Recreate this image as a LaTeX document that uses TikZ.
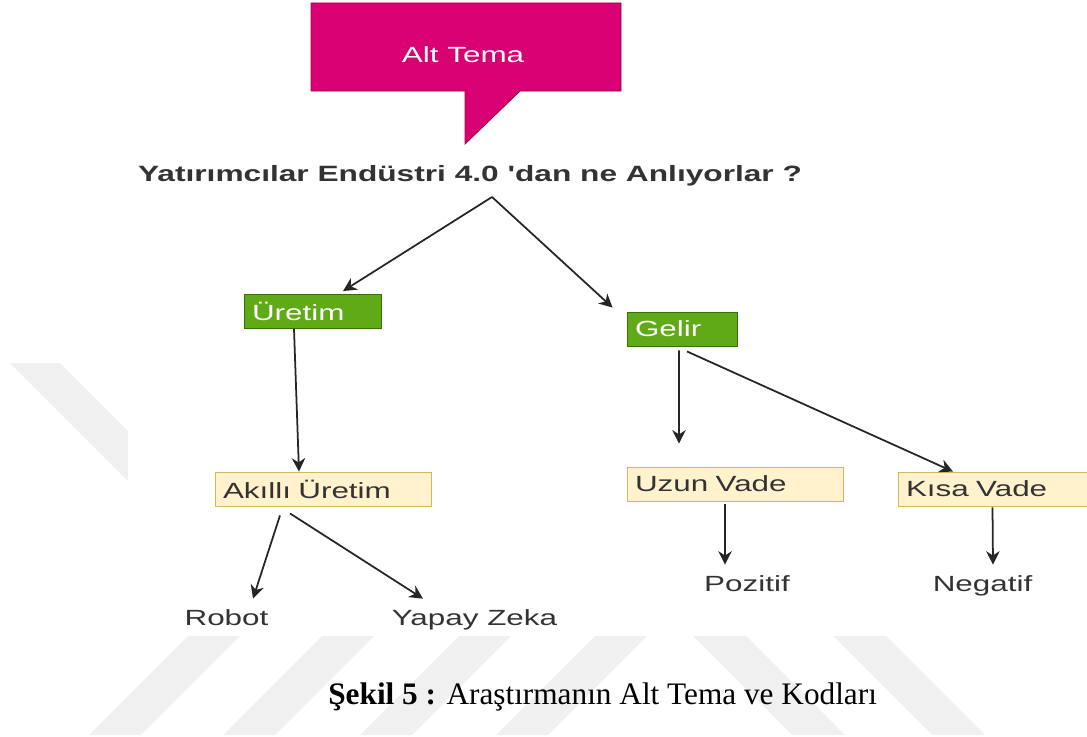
\documentclass[tikz,border=0pt]{standalone}
\usepackage{fontspec}
\setmainfont{Liberation Serif}
\newfontfamily\diafont[FakeStretch=1.43]{Liberation Sans}
\usetikzlibrary{positioning,calc,arrows.meta}

\definecolor{temapink}{HTML}{D80073}
\definecolor{temaline}{HTML}{A50040}
\definecolor{kodgreen}{HTML}{60A917}
\definecolor{kodgreenline}{HTML}{2D7600}
\definecolor{kodyellow}{HTML}{FFF2CC}
\definecolor{kodyellowline}{HTML}{D6B656}
\definecolor{yazi}{HTML}{333333}
\definecolor{filigran}{HTML}{F0F0F0}

\begin{document}
\begin{tikzpicture}[>={Stealth[length=0.27cm, width=0.27cm]}]
	\useasboundingbox (0,0) rectangle (21.74,-14.72);
	\tikzstyle{every node}=[font=\diafont\fontsize{12.5}{15}\selectfont, text=yazi]
	\tikzstyle{ok}=[line width=1pt, draw=black!85]
	\tikzstyle{kutu}=[draw, line width=0.5pt, minimum height=0.68cm, inner xsep=0.16cm, inner ysep=0pt, align=left]
	\tikzstyle{tema}=[kutu, draw=kodgreenline, fill=kodgreen, text=white]
	\tikzstyle{kod}=[kutu, draw=kodyellowline, fill=kodyellow]
	\tikzstyle{yaprak}=[inner xsep=0pt, inner ysep=0.2cm, text height=0.32cm, text depth=0cm, anchor=base]

	\foreach \a in {3.76, 6.44, 9.18, 11.9}
		\fill[filigran] (\a,-12.72) -- ++(1.04,0) -- ++(-1.98,-1.98) -- ++(-1.04,0) -- cycle;
	\foreach \b in {13.86, 16.66}
		\fill[filigran] (\b,-12.72) -- ++(1.06,0) -- ++(1.98,-1.98) -- ++(-1.06,0) -- cycle;
	\fill[filigran] (0.2,-7.26) -- (1.2,-7.26) -- (2.56,-8.62) -- (2.56,-9.62) -- cycle;

	\filldraw[fill=temapink, draw=temaline, line width=0.5pt] (6.22,-0.06) -- (12.42,-0.06) -- (12.42,-1.82) -- (10.4,-1.82)
		-- (9.3,-2.88) -- (9.3,-1.82) -- (6.22,-1.82) -- cycle;
	\node[text=white] (alttema) at (9.26,-1.1) {Alt Tema};

	\node[font=\diafont\bfseries\fontsize{12.6}{15}\selectfont, anchor=base] (soru) at (9.4,-3.62) {Yatırımcılar Endüstri 4.0 {\char"27}dan ne Anlıyorlar ?};
	\coordinate (ayrim) at (9.84,-3.94);

	\node[tema, text width=2.42cm] (uret) at (6.25,-6.23) {Üretim};
	\node[tema, text width=1.88cm] (gelir) at (13.64,-6.58) {Gelir};
	\node[kod, text width=4.0cm] (akilli) at (6.46,-9.78) {Akıllı Üretim};
	\node[kod, text width=4.0cm] (uzun) at (14.7,-9.68) {Uzun Vade};
	\node[kod, text width=3.46cm] (kisa) at (19.85,-9.78) {Kısa Vade};

	\node[yaprak] (robot) at (4.53,-12.5) {Robot};
	\node[yaprak] (yapay) at (9.49,-12.5) {Yapay Zeka};
	\node[yaprak] (pozitif) at (14.94,-11.82) {Pozitif};
	\node[yaprak] (negatif) at (19.65,-11.82) {Negatif};

	\draw[ok, ->] (ayrim) to ([xshift=0.61cm, yshift=0.06cm]uret.north);
	\draw[ok, ->] (ayrim) to ([xshift=-0.28cm, yshift=0.08cm]gelir.north west);
	\draw[ok, ->] ([xshift=-0.37cm]uret.south) to ([xshift=-0.48cm]akilli.north);
	\draw[ok, ->] ([xshift=-0.86cm, yshift=-0.18cm]akilli.south) to ([xshift=0.53cm]robot.north);
	\draw[ok, ->] ([xshift=-0.66cm, yshift=-0.14cm]akilli.south) to ([xshift=-1.03cm]yapay.north);
	\draw[ok, ->, shorten >=0.46cm] ([xshift=-0.06cm, yshift=-0.08cm]gelir.south) to ([xshift=-1.12cm]uzun.north);
	\draw[ok, ->] ([xshift=0.1cm, yshift=-0.1cm]gelir.south) to ([xshift=-0.79cm]kisa.north);
	\draw[ok, ->] ([xshift=-0.2cm, yshift=-0.06cm]uzun.south) to ([xshift=-0.44cm]pozitif.north);
	\draw[ok, ->] ([yshift=-0.02cm]kisa.south) to ([xshift=0.21cm]negatif.north);

	\node[anchor=base west, inner sep=0pt, font=\fontsize{17.8}{21}\selectfont, text=black] (sekil) at (6.56,-14.08)
		{\textbf{Şekil 5 :} Araştırmanın Alt Tema ve Kodları};
\end{tikzpicture}
\end{document}
